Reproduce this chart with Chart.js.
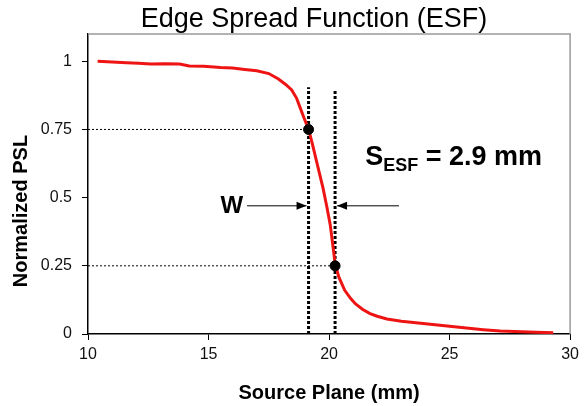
<!DOCTYPE html>
<html><head><meta charset="utf-8">
<script src="https://cdn.jsdelivr.net/npm/chart.js@4/dist/chart.umd.min.js"></script>
<style>html,body{margin:0;padding:0;background:#fff}#wrap{width:584px;height:406px;position:relative}</style>
</head><body><div id="wrap"><canvas id="c" width="584" height="406"></canvas></div>
<script>
// ---- data ----
const esfX = [10.4, 11.0, 11.6, 12.1, 12.6, 13.2, 13.8, 14.2, 14.8, 15.5, 16.0, 16.5, 17.0, 17.5, 17.9, 18.2, 18.45, 18.65, 18.8, 18.95, 19.15, 19.3, 19.45, 19.6, 19.75, 19.9, 20.05, 20.15, 20.25, 20.4, 20.65, 20.9, 21.1, 21.4, 21.7, 22.0, 22.4, 23.0, 23.5, 24.1, 24.8, 25.7, 26.4, 27.1, 28.0, 28.6, 29.3];
const esfY = [1.0, 0.997, 0.995, 0.993, 0.99, 0.991, 0.99, 0.983, 0.982, 0.977, 0.975, 0.97, 0.965, 0.955, 0.935, 0.915, 0.895, 0.865, 0.83, 0.795, 0.75, 0.70, 0.645, 0.59, 0.535, 0.47, 0.40, 0.33, 0.26, 0.21, 0.16, 0.13, 0.11, 0.09, 0.075, 0.065, 0.055, 0.047, 0.042, 0.037, 0.03, 0.022, 0.016, 0.011, 0.008, 0.006, 0.005];
const xTicks = [10, 15, 20, 25, 30];
const yTicks = [0, 0.25, 0.5, 0.75, 1];
const markX = [19.15, 20.25];
const markY = [0.75, 0.25];
const guideTop = [0.905, 0.895];
const arrowY = 0.47;
const arrowFrom = [16.6, 22.9];
const titleText = "Edge Spread Function (ESF)";
const xTitle = "Source Plane (mm)";
const yTitle = "Normalized PSL";
const wLabel = "W";
const sMain = "S", sSub = "ESF", sRest = " = 2.9 mm";

// ---- datasets ----
const datasets = [];
datasets.push({type:'scatter', data: markX.map((x,i)=>({x:x,y:markY[i]})), pointRadius:5, pointBackgroundColor:'#000', pointBorderColor:'#000', showLine:false, order:0});
datasets.push({type:'line', data: esfX.map((x,i)=>({x:x,y:esfY[i]})), borderColor:'#ee1414', borderWidth:3, pointRadius:0, tension:0, fill:false, order:1});
markX.forEach((mx,i)=>{
  datasets.push({type:'line', data:[{x:xTicks[0],y:markY[i]},{x:mx,y:markY[i]}], borderColor:'#000', borderWidth:1, borderDash:[2,2], pointRadius:0, order:2});
  datasets.push({type:'line', data:[{x:mx,y:0},{x:mx,y:guideTop[i]}], borderColor:'#000', borderWidth:3, borderDash:[3,2], pointRadius:0, order:2});
});

const FONT = "'Liberation Sans', Arial, sans-serif";

const deco = {
  id:'deco',
  afterDraw(chart){
    const ctx = chart.ctx, a = chart.chartArea;
    const xs = chart.scales.x, ys = chart.scales.y;
    ctx.save();
    // top/right border
    ctx.strokeStyle = '#9a9a9a'; ctx.lineWidth = 1.5;
    ctx.beginPath(); ctx.moveTo(a.left, a.top); ctx.lineTo(a.right, a.top); ctx.lineTo(a.right, a.bottom); ctx.stroke();
    // title
    ctx.fillStyle = '#000';
    ctx.font = "27px " + FONT; ctx.textAlign='center'; ctx.textBaseline='alphabetic';
    ctx.fillText(titleText, 314, 27);
    // x title
    ctx.font = "bold 20px " + FONT;
    ctx.fillText(xTitle, (a.left+a.right)/2, 399);
    // y title
    ctx.save(); ctx.translate(27, 211); ctx.rotate(-Math.PI/2);
    ctx.fillText(yTitle, 0, 0); ctx.restore();
    // arrows
    const py = ys.getPixelForValue(arrowY);
    ctx.strokeStyle = '#000'; ctx.lineWidth = 1;
    const drawArrow = (x0, x1) => {
      ctx.beginPath(); ctx.moveTo(x0, py); ctx.lineTo(x1, py); ctx.stroke();
      const d = x1 > x0 ? 1 : -1;
      ctx.beginPath(); ctx.moveTo(x1, py); ctx.lineTo(x1 - d*10, py-4); ctx.lineTo(x1 - d*10, py+4); ctx.closePath(); ctx.fill();
    };
    drawArrow(xs.getPixelForValue(arrowFrom[0]), xs.getPixelForValue(markX[0]) - 2);
    drawArrow(xs.getPixelForValue(arrowFrom[1]), xs.getPixelForValue(markX[1]) + 2);
    // W label
    ctx.font = "bold 24px " + FONT; ctx.textAlign='right'; ctx.textBaseline='middle';
    ctx.fillText(wLabel, xs.getPixelForValue(arrowFrom[0]) - 4, py + 1);
    // S_ESF label
    ctx.textAlign='left'; ctx.textBaseline='alphabetic';
    let sx = xs.getPixelForValue(21.5), sy = ys.getPixelForValue(0.618);
    ctx.font = "bold 27px " + FONT; ctx.fillText(sMain, sx, sy); sx += ctx.measureText(sMain).width;
    ctx.font = "bold 18px " + FONT; ctx.fillText(sSub, sx, sy + 6); sx += ctx.measureText(sSub).width;
    ctx.font = "bold 27px " + FONT; ctx.fillText(sRest, sx, sy);
    ctx.restore();
  }
};

new Chart(document.getElementById('c'), {
  data: { datasets },
  options: {
    responsive:false, animation:false, events:[],
    layout:{ padding:{ top:34, right:10, left:0, bottom:0 } },
    plugins:{ legend:{display:false}, tooltip:{enabled:false}, title:{display:false} },
    scales:{
      x:{ type:'linear', min:xTicks[0], max:xTicks[xTicks.length-1],
          afterBuildTicks(s){ s.ticks = xTicks.map(v=>({value:v})); },
          afterFit(s){ s.height = 72; },
          ticks:{ font:{family:FONT, size:16}, color:'#111', padding:5, maxRotation:0 },
          grid:{ drawOnChartArea:false, drawTicks:true, tickLength:6, color:'#000' },
          border:{ color:'#000', width:1.5 } },
      y:{ type:'linear', min:0, max:1.1,
          afterBuildTicks(s){ s.ticks = yTicks.map(v=>({value:v})); },
          afterFit(s){ s.width = 88; },
          ticks:{ font:{family:FONT, size:16}, color:'#111', padding:10, callback:(v)=>String(v) },
          grid:{ drawOnChartArea:false, drawTicks:true, tickLength:6, color:'#000' },
          border:{ color:'#000', width:1.5 } }
    }
  },
  plugins:[deco]
});
</script></body></html>
